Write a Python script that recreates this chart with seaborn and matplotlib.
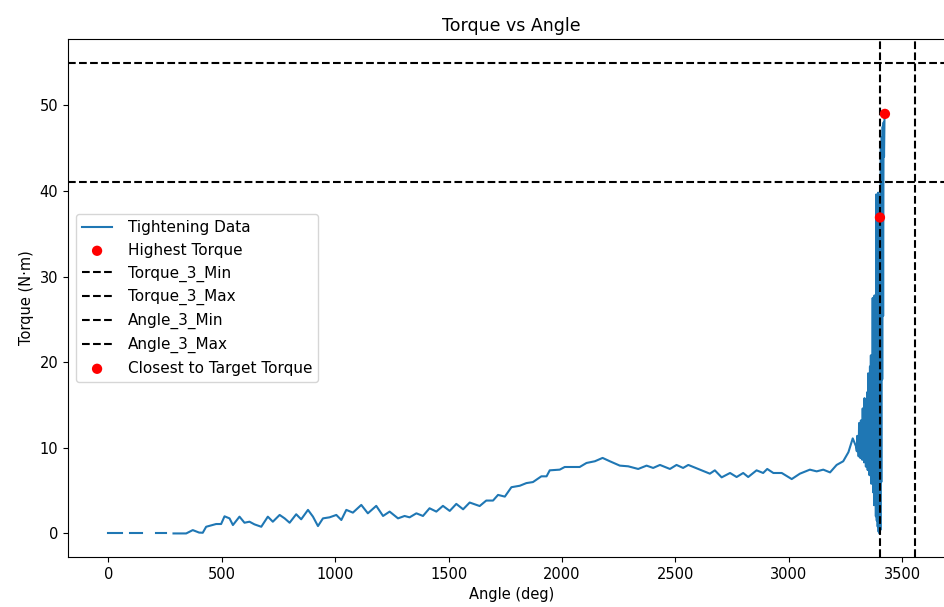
import numpy as np
import pandas as pd
import matplotlib
matplotlib.use("Agg")
import matplotlib.pyplot as plt
import seaborn as sns

# tightening curve (nan = gap in the trace)
angle = [
    0, 30, 62, 78, 93, 120, 150, 180, 212, 235, 256, 272, 287, 320, 343,
    372, 400, 416, 431, 475, 497, 512, 534, 549, 578, 600, 622, 644, 674,
    703, 725, 755, 777, 799, 828, 850, 880, 902, 924, 946, 975, 1005, 1027,
    1049, 1078, 1115, 1144, 1181, 1211, 1240, 1277, 1306, 1328, 1358, 1387,
    1416, 1446, 1475, 1505, 1534, 1564, 1593, 1637, 1666, 1696, 1718, 1748,
    1777, 1814, 1843, 1872, 1909, 1932, 1946, 1990, 2012, 2042, 2078, 2108,
    2145, 2179, 2211, 2255, 2292, 2336, 2373, 2402, 2432, 2476, 2505, 2534,
    2557, 2608, 2652, 2674, 2704, 2741, 2770, 2799, 2821, 2858, 2887, 2905,
    2932, 2969, 3013, 3049, 3093, 3123, 3152, 3182, 3211, 3240, 3263, 3282,
    3296,
    3300, 3302, 3304, 3306, 3308, 3310, 3312, 3314, 3316, 3318, 3320, 3322,
    3324, 3326, 3328, 3330, 3332, 3334, 3336, 3338, 3340, 3342, 3344, 3346,
    3348, 3350, 3352, 3354, 3356, 3358, 3360, 3362, 3364, 3366, 3368, 3370,
    3372, 3374, 3376, 3378, 3380, 3382, 3384, 3386, 3388, 3390, 3392, 3394,
    3396, 3398, 3400, 3402, 3404, 3406, 3408, 3410, 3412, 3414, 3416, 3418,
    3420, 3422, 3424,
]
torque = [
    0, 0, 0, np.nan, 0, 0, 0, np.nan, 0, 0, 0, np.nan, 0, 0, 0,
    0.39, 0.1, 0.08, 0.78, 1.1, 1.1, 2.0, 1.76, 0.98, 1.96, 1.25, 1.37, 1.06, 0.78,
    1.96, 1.37, 2.16, 1.76, 1.25, 2.24, 1.65, 2.75, 1.96, 0.86, 1.76, 1.88, 2.16, 1.57,
    2.75, 2.43, 3.33, 2.35, 3.22, 2.04, 2.55, 1.76, 2.04, 1.88, 2.35, 2.04,
    2.94, 2.55, 3.22, 2.63, 3.45, 2.82, 3.61, 3.2, 3.84, 3.84, 4.5, 4.3,
    5.4, 5.57, 5.88, 6.0, 6.67, 6.67, 7.37, 7.45, 7.76, 7.76, 7.76, 8.23,
    8.43, 8.82, 8.43, 7.92, 7.84, 7.53, 7.92, 7.65, 8.0, 7.53, 8.0, 7.65,
    8.0, 7.45, 6.98, 7.37, 6.55, 7.06, 6.59, 7.06, 6.59, 7.37, 7.06, 7.53,
    7.06, 7.06, 6.35, 6.98, 7.45, 7.25, 7.45, 7.13, 8.0, 8.43, 9.49, 11.1,
    10.2,
    9.6, 11.4, 9.8, 10.6, 9.0, 12.9, 9.3, 11.0, 8.8, 13.2, 9.5, 12.0,
    8.6, 14.6, 9.1, 12.8, 8.3, 15.8, 9.0, 13.5, 7.8, 15.0, 8.7, 16.5,
    7.4, 18.7, 8.2, 17.0, 6.8, 19.5, 7.9, 20.8, 5.8, 20.5, 6.2, 27.5,
    4.8, 26.0, 3.3, 27.8, 5.5, 27.0, 2.0, 39.6, 1.5, 38.0, 0.8, 39.8,
    0.2, 39.5, 0.0, 36.9, 0.4, 45.0, 6.0, 46.3, 18.0, 47.5, 25.4, 48.0,
    44.0, 48.4, 49.0,
]

highest_angle, highest_torque = [3424], [49.0]
closest_angle, closest_torque = [3402], [36.9]

torque_min, torque_max = 41, 55
angle_min, angle_max = 3402, 3555

df = pd.DataFrame({"Angle": angle, "Torque": torque})
# split into pieces wherever the trace has a gap
df["segment"] = df["Torque"].isna().cumsum()
df = df.dropna()

plt.rcParams["font.size"] = 10.5
fig = plt.figure(figsize=(9.45, 6.07), dpi=100)
ax = fig.add_axes([0.072, 0.0824, 0.9386, 0.8534])

for i, (_, seg) in enumerate(df.groupby("segment")):
    sns.lineplot(
        data=seg, x="Angle", y="Torque", ax=ax, color="#1f77b4",
        linewidth=1.5, estimator=None, sort=False,
        label="Tightening Data" if i == 0 else None,
    )

sns.scatterplot(x=highest_angle, y=highest_torque, ax=ax, color="red",
                s=55, edgecolor="none", zorder=3, label="Highest Torque")
ax.axhline(torque_min, color="black", linestyle="--", label="Torque_3_Min")
ax.axhline(torque_max, color="black", linestyle="--", label="Torque_3_Max")
ax.axvline(angle_min, color="black", linestyle="--", label="Angle_3_Min")
ax.axvline(angle_max, color="black", linestyle="--", label="Angle_3_Max")
sns.scatterplot(x=closest_angle, y=closest_torque, ax=ax, color="red",
                s=55, edgecolor="none", zorder=3, label="Closest to Target Torque")

ax.set_xlim(-178, 3733)
ax.set_ylim(-2.75, 57.75)
ax.set_xticks(range(0, 3501, 500))
ax.set_yticks(range(0, 51, 10))
ax.set_title("Torque vs Angle", fontsize=12.5)
ax.set_xlabel("Angle (deg)")
ax.set_ylabel("Torque (N·m)")
ax.legend(loc="center left", fontsize=11, labelspacing=0.5,
          handletextpad=1.0)

fig.savefig("out.png", dpi=100)
